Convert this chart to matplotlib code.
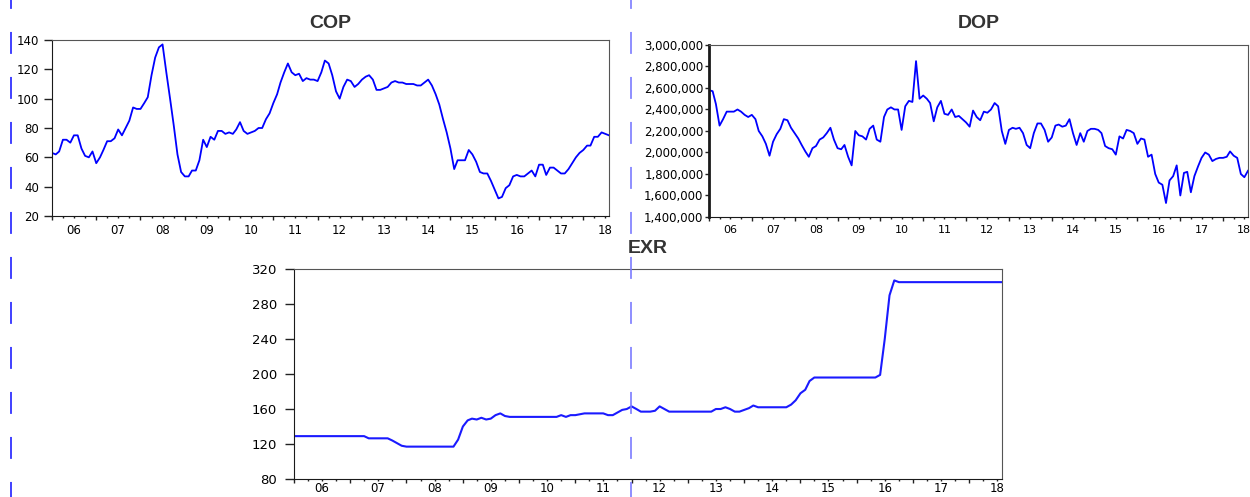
import numpy as np
import pandas as pd
import matplotlib
matplotlib.use('Agg')
import matplotlib.pyplot as plt
import matplotlib.dates as mdates
from matplotlib.ticker import FuncFormatter, MultipleLocator, NullFormatter
from matplotlib.lines import Line2D

plt.rcParams['lines.scale_dashes'] = False

# monthly data, 2006M01 - 2018M08
cop = [63, 62, 64, 72, 72, 70, 75, 75, 66, 61, 60, 64,
       56, 60, 65, 71, 71, 73, 79, 75, 80, 85, 94, 93,
       93, 97, 101, 116, 128, 135, 137, 118, 100, 82, 62, 50,
       47, 47, 51, 51, 58, 72, 67, 74, 72, 78, 78, 76,
       77, 76, 79, 84, 78, 76, 77, 78, 80, 80, 86, 90,
       97, 103, 111, 118, 124, 118, 116, 117, 112, 114, 113, 113,
       112, 118, 126, 124, 116, 105, 100, 108, 113, 112, 108, 110,
       113, 115, 116, 113, 106, 106, 107, 108, 111, 112, 111, 111,
       110, 110, 110, 109, 109, 111, 113, 109, 103, 96, 86, 77,
       66, 52, 58, 58, 58, 65, 62, 57, 50, 49, 49, 44,
       38, 32, 33, 39, 41, 47, 48, 47, 47, 49, 51, 47,
       55, 55, 48, 53, 53, 51, 49, 49, 52, 56, 60, 63,
       65, 68, 68, 74, 74, 77, 76, 75]

dop_mn = [2.58, 2.57, 2.45, 2.25, 2.31, 2.38, 2.38, 2.38, 2.40, 2.38, 2.35, 2.33,
          2.35, 2.31, 2.20, 2.15, 2.08, 1.97, 2.10, 2.17, 2.22, 2.31, 2.30, 2.23,
          2.18, 2.13, 2.07, 2.01, 1.96, 2.04, 2.06, 2.12, 2.14, 2.18, 2.23, 2.12,
          2.04, 2.03, 2.07, 1.96, 1.88, 2.20, 2.16, 2.15, 2.12, 2.22, 2.25, 2.12,
          2.10, 2.33, 2.40, 2.42, 2.40, 2.40, 2.21, 2.43, 2.48, 2.47, 2.85, 2.50,
          2.53, 2.50, 2.46, 2.29, 2.42, 2.48, 2.36, 2.35, 2.40, 2.33, 2.34, 2.31,
          2.28, 2.24, 2.39, 2.33, 2.30, 2.38, 2.37, 2.40, 2.46, 2.43, 2.20, 2.08,
          2.21, 2.23, 2.22, 2.23, 2.18, 2.07, 2.04, 2.18, 2.27, 2.27, 2.21, 2.10,
          2.14, 2.25, 2.26, 2.24, 2.25, 2.31, 2.18, 2.07, 2.18, 2.10, 2.20, 2.22,
          2.22, 2.21, 2.18, 2.06, 2.04, 2.03, 1.98, 2.15, 2.13, 2.21, 2.20, 2.18,
          2.08, 2.13, 2.12, 1.96, 1.98, 1.80, 1.72, 1.70, 1.53, 1.74, 1.78, 1.88,
          1.60, 1.81, 1.82, 1.63, 1.78, 1.87, 1.95, 2.00, 1.98, 1.92, 1.94, 1.95,
          1.95, 1.96, 2.01, 1.97, 1.95, 1.80, 1.77, 1.83]
dop = [v * 1e6 for v in dop_mn]

exr = [129, 129, 129, 129, 129, 129, 129, 129, 129, 129, 129, 129,
       129, 129, 129, 129, 126.5, 126.5, 126.5, 126.5, 126.5, 124, 121, 118,
       117, 117, 117, 117, 117, 117, 117, 117, 117, 117, 117, 125,
       140, 147, 149, 148, 150, 148, 149, 153, 155, 152, 151, 151,
       151, 151, 151, 151, 151, 151, 151, 151, 151, 153, 151, 153,
       153, 154, 155, 155, 155, 155, 155, 153, 153, 156, 159, 160,
       163, 160, 157, 157, 157, 158, 163, 160, 157, 157, 157, 157,
       157, 157, 157, 157, 157, 157, 160, 160, 162, 160, 157, 157,
       159, 161, 164, 162, 162, 162, 162, 162, 162, 162, 165, 170,
       178, 182, 192, 196, 196, 196, 196, 196, 196, 196, 196, 196,
       196, 196, 196, 196, 196, 199, 240, 290, 307, 305, 305, 305,
       305, 305, 305, 305, 305, 305, 305, 305, 305, 305, 305, 305,
       305, 305, 305, 305, 305, 305, 305, 305]

dates = pd.date_range('2006-01-01', periods=len(cop), freq='MS')


def year_label(x, pos):
    d = mdates.num2date(x)
    return d.strftime('%y') if d.month == 7 else ''


def style_axis(ax, title, fs, ylen, ypad, title_pad, xpad, xfs=None):
    ax.set_xlim(dates[0], dates[-1])
    ax.xaxis.set_major_locator(mdates.YearLocator())
    ax.xaxis.set_major_formatter(NullFormatter())
    ax.xaxis.set_minor_locator(mdates.MonthLocator(bymonth=[4, 7, 10]))
    ax.xaxis.set_minor_formatter(FuncFormatter(year_label))
    ax.tick_params(axis='x', which='major', length=3, width=1, color='#222222')
    ax.tick_params(axis='x', which='minor', length=1.6, width=1, pad=xpad,
                   labelsize=xfs or fs, color='#222222')
    ax.tick_params(axis='y', length=ylen, width=1, pad=ypad, labelsize=fs,
                   color='#222222')
    for s in ['left', 'bottom']:
        ax.spines[s].set_color('#1a1a1a')
    for s in ['top', 'right']:
        ax.spines[s].set_color('#555555')
    ax.set_title(title, fontsize=14, fontweight='bold', color='#333333',
                 family='Liberation Sans', pad=title_pad)


fig = plt.figure(figsize=(12.5, 4.97), dpi=100)

ax1 = fig.add_axes([0.0416, 0.5654, 0.4456, 0.3541])
ax1.plot(dates, cop, color='#0000ff', lw=1.3)
ax1.set_ylim(20, 140)
ax1.yaxis.set_major_locator(MultipleLocator(20))
style_axis(ax1, 'COP', 8.5, 6, 3.4, 8.6, 4)

ax2 = fig.add_axes([0.5672, 0.5634, 0.4312, 0.3461])
ax2.plot(dates, dop, color='#0000ff', lw=1.3)
ax2.set_ylim(1400000, 3000000)
ax2.yaxis.set_major_locator(MultipleLocator(200000))
ax2.yaxis.set_major_formatter(FuncFormatter(lambda v, p: '{:,.0f}'.format(v)))
style_axis(ax2, 'DOP', 8.5, 3, 1, 12, 4.5, xfs=8)
ax2.spines['left'].set_linewidth(2)

ax3 = fig.add_axes([0.2352, 0.0362, 0.5664, 0.4225])
ax3.plot(dates, exr, color='#1a1aff', lw=1.5)
ax3.set_ylim(80, 320)
ax3.yaxis.set_major_locator(MultipleLocator(40))
style_axis(ax3, 'EXR', 9.5, 6.5, 5.7, 11.5, 0.8, xfs=8.5)

# dashed guide lines of the source document
fig.add_artist(Line2D([0.0088, 0.0088], [1, 0], transform=fig.transFigure,
                      color='#2020ff', lw=1.2, linestyle=(9.4, (15.8, 16.6))))
fig.add_artist(Line2D([0.5048, 0.5048], [1, 0], transform=fig.transFigure,
                      color='#7b7bff', lw=1.2, linestyle=(9.4, (15.8, 16.6))))

fig.savefig('out.png', dpi=100)
